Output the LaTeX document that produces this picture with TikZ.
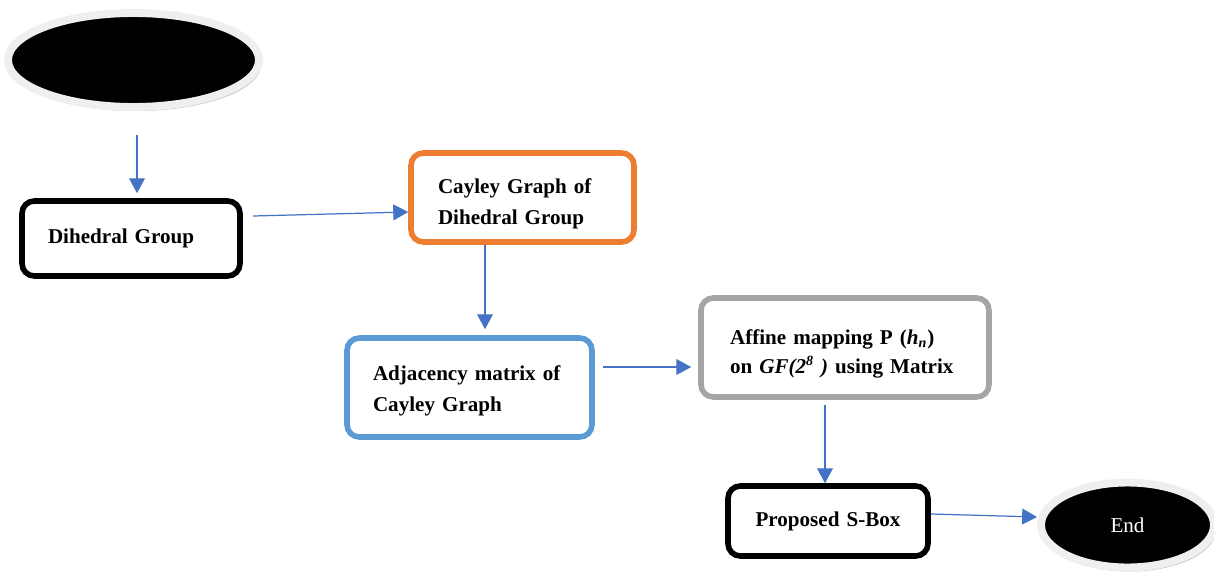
\documentclass[tikz,border=0pt]{standalone}
\usepackage{fontspec}
\setmainfont{Liberation Serif}
\usetikzlibrary{arrows.meta,shapes.geometric,shadows}
\definecolor{boxorange}{HTML}{ED7D31}
\definecolor{boxblue}{HTML}{5B9BD5}
\definecolor{boxgray}{HTML}{A5A5A5}
\definecolor{linkblue}{HTML}{4472C4}
\definecolor{ovalgray}{HTML}{EFEFEF}
\begin{document}
\begin{tikzpicture}[x=0.02cm,y=-0.02cm,font=\fontsize{12}{17.5}\selectfont,
  box/.style={draw,line width=3.2pt,rounded corners=7pt,align=left,inner ysep=0pt,font=\fontsize{12}{17.5}\selectfont\bfseries},
  oval/.style={ellipse,draw=ovalgray,line width=4.5pt,fill=black,inner sep=0pt,
    drop shadow={shadow xshift=0.05cm,shadow yshift=-0.08cm,fill=black,opacity=0.25}},
  link/.style={draw=linkblue,line width=0.7pt,-{Triangle[length=8.5pt,width=9pt]}}]
\useasboundingbox (0,0) rectangle (1214,578);
% terminals
\node[oval,minimum width=5.02cm,minimum height=1.88cm] (start) at (133.5,60) {};
\node[oval,minimum width=3.46cm,minimum height=1.7cm,text=white] (en) at (1127.5,525) {End};
% steps
\node[box,inner xsep=0.52cm,text width=3.32cm,minimum height=1.5cm] (dh) at (131,238.5) {Dihedral Group};
\node[box,draw=boxorange,inner xsep=0.54cm,text width=3.38cm,minimum height=1.78cm] (cy) at (522.5,197.5) {\rule{0pt}{15.5pt}Cayley Graph of\\Dihedral Group};
\node[box,draw=boxblue,inner xsep=0.52cm,text width=3.86cm,minimum height=1.98cm] (ad) at (469.5,387.5) {\rule{0pt}{12.5pt}Adjacency matrix of\\Cayley Graph};
\node[box,draw=boxgray,inner xsep=0.58cm,text width=4.6cm,minimum height=1.98cm,font=\fontsize{12}{16.5}\selectfont\bfseries] (af) at (845,347.5)
  {\rule{0pt}{15.5pt}Affine mapping P (\textit{h}\textsubscript{\textit{n}})\\on \textit{GF(2\textsuperscript{8} )} using Matrix};
\node[box,align=center,inner xsep=0.3cm,text width=3.4cm,minimum height=1.4cm] (sb) at (828,521) {Proposed S-Box};
% links
\draw[link,shorten <=0.48cm,shorten >=0.1cm] ([xshift=0.07cm]start.south) -- ([xshift=0.07cm]start.south |- dh.north);
\draw[link] ([shift={(0.2cm,0.45cm)}]dh.east) -- ([yshift=-0.29cm]cy.west);
\draw[link,shorten >=0.12cm] ([xshift=-0.75cm]cy.south) -- ([xshift=-0.75cm]cy.south |- ad.north);
\draw[link,shorten <=0.16cm,shorten >=0.14cm] ([yshift=0.41cm]ad.east) -- ([yshift=0.41cm]ad.east -| af.west);
\draw[link,shorten <=0.1cm] ([xshift=-0.4cm]af.south) -- ([xshift=-0.4cm]af.south |- sb.north);
\draw[link] ([yshift=0.14cm]sb.east) -- ([yshift=0.16cm]en.west);
\end{tikzpicture}
\end{document}
